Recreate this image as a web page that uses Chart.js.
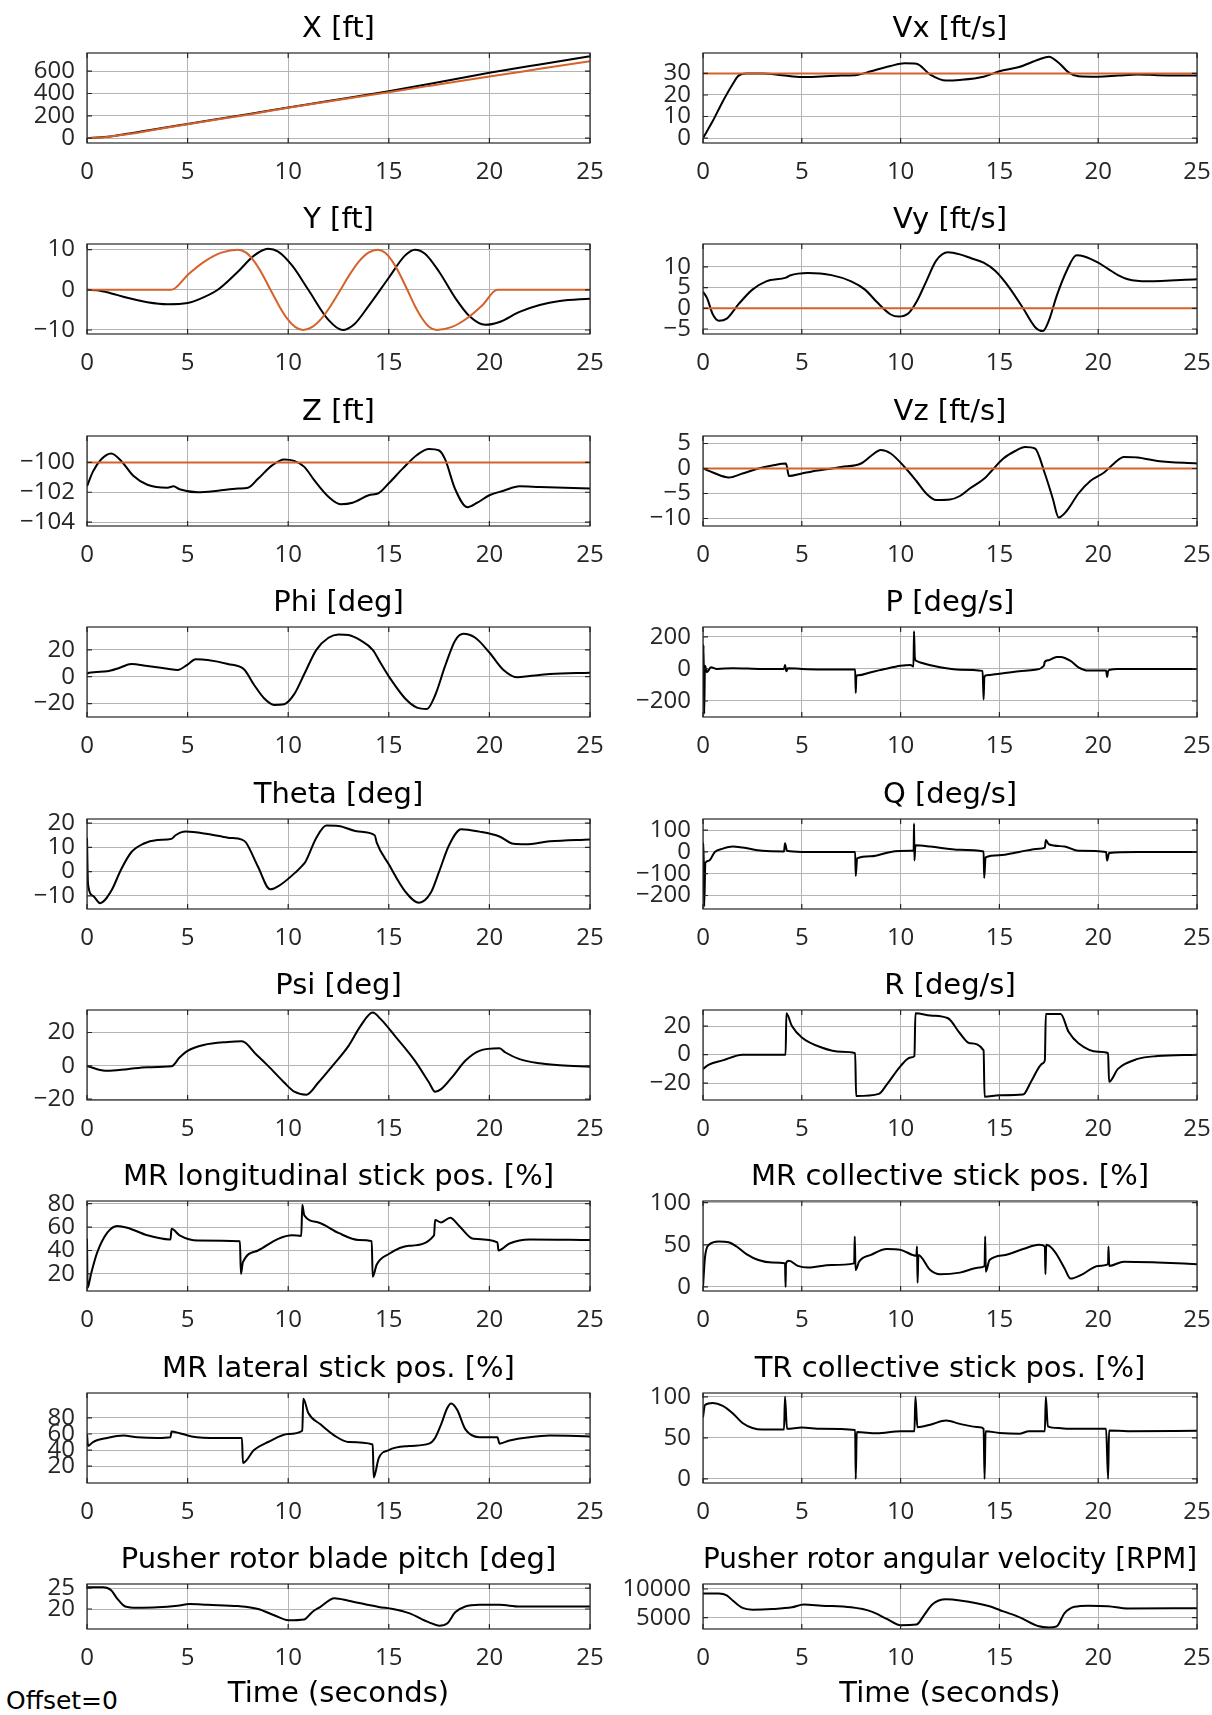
<!DOCTYPE html>
<html>
<head>
<meta charset="utf-8">
<script src="https://cdn.jsdelivr.net/npm/chart.js@4"></script>
<style>
  body { margin: 0; background: #fff; width: 1212px; height: 1715px; position: relative; overflow: hidden; font-family: "DejaVu Sans"; }
  .panel { position: absolute; }
  #offset { position: absolute; left: 6px; top: 1686px; font-size: 25px; color: #000; }
</style>
</head>
<body>
<div id="offset">Offset=0</div>
<script>
const BLACK = "#000000";
const ORANGE = "#D4622A";

// X [ft]
const tX = [0, 1, 2, 3, 5, 8, 10, 12, 15, 17, 20, 22.5, 25];
const xAct = [0, 12, 38, 68, 127, 215, 275, 332, 420, 485, 585, 660, 733];
const xCmd = [0, 10, 35, 64, 125, 210, 272, 328, 412, 468, 552, 621, 690];

// Vx [ft/s]
const tVx = [0, 0.5, 1, 1.5, 1.8, 2.2, 3, 4, 5, 6, 7, 7.8, 8.5, 9.5, 10.2, 10.8, 11.5, 12.3, 13, 14.2, 15, 16, 17, 17.5, 18, 18.5, 19, 20, 21, 22, 23, 25];
const vxAct = [0, 8, 17, 25, 29, 30, 30, 29.2, 28.3, 28.6, 29, 29.3, 31, 33.5, 34.7, 34.5, 29.5, 26.7, 27, 28.5, 31, 33, 36.5, 37.8, 35, 30.5, 28.7, 28.5, 29, 29.5, 29.2, 29];
const tVxCmd = [0, 25];
const vxCmd = [30, 30];

// Y [ft]
const tY = [0, 0.5, 1, 2, 3, 4, 5, 5.5, 6.5, 7.5, 8.3, 9, 9.5, 10.2, 11, 12, 12.7, 13.3, 14, 15, 15.8, 16.3, 16.8, 17.5, 18.3, 19, 19.8, 20.5, 21.5, 22.5, 23.5, 25];
const yAct = [0, -0.1, -0.6, -2, -3.1, -3.6, -3.3, -2.5, 0, 4.5, 8.5, 10.2, 9.5, 6, 0, -7.5, -10, -8.5, -4, 3, 8.5, 10, 9, 4.5, -2, -6.5, -8.7, -8, -5.5, -3.8, -2.8, -2.2];
const tYCmd = [0, 4.2, 5.03, 5.85, 6.68, 7.5, 7.91, 8.31, 8.72, 9.12, 9.53, 9.93, 10.34, 10.74, 11.2, 11.67, 12.13, 12.6, 13.06, 13.52, 13.99, 14.45, 14.82, 15.18, 15.55, 15.92, 16.28, 16.65, 17.01, 17.38, 18.14, 18.89, 19.65, 20.4, 25];
const yCmd = [0, 0, 3.83, 7.07, 9.24, 10, 9.24, 7.07, 3.83, 0, -3.83, -7.07, -9.24, -10, -9.24, -7.07, -3.83, 0, 3.83, 7.07, 9.24, 10, 9.24, 7.07, 3.83, 0, -3.83, -7.07, -9.24, -10, -9.24, -7.07, -3.83, 0, 0];

// Vy [ft/s]
const tVy = [0, 0.2, 0.5, 0.8, 1.2, 1.8, 2.5, 3.2, 4.2, 4.4, 5.3, 6.5, 7.5, 8.2, 8.8, 9.5, 9.9, 10.4, 10.8, 11.3, 11.8, 12.4, 13, 13.6, 14.2, 14.8, 15.5, 16.2, 16.8, 17.2, 17.5, 17.9, 18.4, 18.9, 19.3, 20, 20.5, 21, 21.5, 22.5, 25];
const vyAct = [4, 2.5, -1.5, -3, -2.5, 1, 4.5, 6.5, 7.4, 7.9, 8.5, 8, 6.5, 4.5, 1.5, -1.5, -2, -1.2, 1.5, 6.5, 11.5, 13.5, 13, 12, 11, 9, 5, 0, -4.5, -5.5, -3, 3, 9, 12.8, 12.5, 11, 9.5, 8, 7, 6.5, 7];
const tVyCmd = [0, 25];
const vyCmd = [0, 0];

// Z [ft]
const tZ = [0, 0.3, 0.7, 1.2, 1.7, 2.3, 3, 4, 4.3, 4.6, 5.5, 6.5, 7.5, 8, 8.5, 9.2, 9.8, 10.3, 10.8, 11.3, 12, 12.6, 13.2, 14, 14.5, 15, 15.7, 16.4, 17, 17.5, 17.8, 18.3, 18.9, 19.4, 20, 20.7, 21.5, 22.5, 25];
const zAct = [-101.6, -100.6, -99.8, -99.4, -99.9, -100.9, -101.5, -101.7, -101.6, -101.8, -102, -101.9, -101.75, -101.7, -101.1, -100.2, -99.8, -99.9, -100.3, -101.2, -102.3, -102.8, -102.7, -102.2, -102.05, -101.4, -100.4, -99.5, -99.1, -99.2, -99.8, -101.8, -103, -102.7, -102.2, -101.9, -101.6, -101.65, -101.75];
const tZCmd = [0, 25];
const zCmd = [-100, -100];

// Vz [ft/s]
const tVz = [0, 0.5, 1.3, 2, 2.8, 3.5, 4.2, 4.35, 5, 5.8, 7, 8, 8.5, 9, 9.5, 10.2, 10.8, 11.3, 11.8, 12.5, 13, 13.5, 14.3, 14.6, 15.2, 15.8, 16.3, 16.8, 17.3, 17.7, 18, 18.4, 19, 19.6, 20.3, 20.8, 21.3, 22, 23, 25];
const vzAct = [0, -0.8, -1.8, -1, 0, 0.6, 1, -1.5, -1, -0.4, 0.3, 1, 2.5, 3.7, 3, 0.3, -2.5, -5, -6.3, -6.2, -5.5, -4, -1.8, -0.5, 2, 3.5, 4.3, 4, -1, -6, -9.8, -8.5, -5, -2.5, -0.8, 1, 2.3, 2.2, 1.5, 1];
const tVzCmd = [0, 25];
const vzCmd = [0, 0];

// Phi [deg]
const tPhi = [0, 0.1, 1, 1.6, 2.2, 3, 4, 4.5, 5, 5.4, 6, 7, 7.8, 8.3, 8.8, 9.3, 9.8, 10.3, 10.8, 11.4, 12, 12.5, 13, 13.6, 14.2, 14.6, 15.1, 15.8, 16.4, 16.9, 17.3, 17.8, 18.3, 18.7, 19.3, 20, 20.7, 21.4, 22, 23, 25];
const phi = [2, 3, 4, 6.5, 9.5, 8, 6, 5, 9, 13, 12.5, 9.5, 5.5, -6, -16, -21, -20.5, -13, 2, 20, 29, 31.5, 31, 27, 20, 10, -2, -16, -23, -24, -14, 8, 27, 32, 29, 18, 5, -0.5, 0.5, 2, 3];

// P [deg/s]
const tP = [0, 0.03, 0.06, 0.1, 0.2, 0.4, 0.7, 1.5, 3, 4.1, 4.15, 4.22, 4.3, 5, 6, 7.7, 7.73, 7.76, 7.85, 8.5, 9.2, 10, 10.5, 10.65, 10.68, 10.72, 10.8, 11, 12, 13, 14.15, 14.2, 14.24, 14.35, 15, 16, 16.8, 17.25, 17.3, 17.5, 17.9, 18.1, 18.6, 19, 19.5, 20.4, 20.45, 20.5, 20.6, 21, 22, 25];
const pRate = [0, 150, -280, 20, -20, 10, 0, 5, 0, 0, 25, -15, 5, 0, -3, -3, -150, -45, -40, -20, 0, 20, 25, 15, 235, 70, 50, 40, 10, -5, -12, -190, -50, -40, -30, -15, -5, 20, 45, 55, 75, 75, 50, 10, -10, -10, -50, -15, -5, 0, 0, 0];

// Theta [deg]
const tTheta = [0, 0.05, 0.3, 0.65, 1.2, 1.7, 2.2, 2.8, 3.5, 4.2, 4.4, 4.9, 6, 7, 7.7, 7.9, 8.5, 9.1, 9.6, 10.4, 10.7, 10.85, 11.4, 11.9, 12.5, 13.5, 14.3, 14.4, 15, 15.8, 16.5, 17.1, 17.5, 18, 18.6, 19.5, 20.5, 21.2, 21.8, 23, 25];
const theta = [14, -5, -10, -13, -8, 1, 8, 11.5, 13, 13.5, 15, 16.5, 15.5, 14, 13.2, 12, 2, -7.3, -5.5, 0, 2.5, 4, 14, 19, 18.8, 16.5, 15, 12, 3, -8, -12.8, -8.5, 0, 11, 17.5, 16.5, 14.5, 11.5, 11.3, 12.5, 13.3];

// Q [deg/s]
const tQ = [0, 0.03, 0.06, 0.12, 0.3, 0.6, 1, 1.5, 2, 3, 4.1, 4.15, 4.25, 5, 7.7, 7.73, 7.8, 8.5, 9.5, 10.5, 10.66, 10.68, 10.7, 10.75, 11.5, 13, 14.2, 14.23, 14.3, 15, 16, 17, 17.3, 17.35, 17.5, 18.3, 19, 20.4, 20.45, 20.55, 22, 25];
const qRate = [30, 40, -250, -50, -40, 0, 15, 25, 20, 5, 2, 40, 5, 0, 0, -110, -30, -20, 0, 5, 5, 130, -40, 30, 25, 10, 2, -120, -25, -15, 0, 15, 20, 55, 35, 25, 5, 0, -40, -5, 0, 0];

// Psi [deg]
const tPsi = [0, 0.5, 1, 2, 3, 4.2, 4.6, 5, 5.8, 7, 7.7, 8.4, 9, 9.8, 10.3, 10.9, 11.5, 12.2, 13, 13.6, 14.2, 14.6, 15.3, 16.3, 17, 17.3, 17.6, 18.2, 18.8, 19.5, 20.5, 20.8, 21.5, 22.5, 23.5, 25];
const psi = [0, -2, -3, -2, -0.8, -0.3, 5, 9, 12.5, 14.3, 14.7, 7, 0, -10, -15.5, -17.3, -10, 0, 12, 24, 32, 28, 18, 3, -10, -15.5, -14, -6, 3, 9, 10.5, 8, 4, 1.5, 0.3, -0.5];

// R [deg/s]
const tR = [0, 0.3, 1, 2, 4.18, 4.22, 4.5, 5, 6, 7, 7.7, 7.75, 8.9, 9.3, 10, 10.5, 10.7, 10.75, 11.5, 12.4, 13, 13.5, 14.2, 14.25, 15, 16.2, 16.6, 17.2, 17.3, 17.35, 18.1, 18.5, 19, 20, 20.5, 20.55, 21, 22, 23, 25];
const rRate = [-10, -7, -4, 0, 0, 29, 20, 12, 5, 2, 1, -29, -27.5, -21, -8, -2, -1, 29, 27.5, 25.5, 15, 8, 3, -29.5, -28.5, -28, -19, -6, -4, 28.5, 28.5, 16, 8, 2, 1, -19, -10, -3, -1, 0];

// MR longitudinal stick pos. [%]
const tLon = [0, 0.03, 0.2, 0.5, 1, 1.5, 2, 3, 4.1, 4.15, 4.2, 4.6, 5.5, 7.6, 7.65, 7.75, 8.5, 9.5, 10.2, 10.65, 10.7, 10.8, 11.5, 12.5, 13.5, 14.15, 14.2, 14.4, 15, 16, 17.25, 17.3, 17.6, 18.05, 18.5, 19.2, 20.4, 20.45, 21, 22, 25];
const lonStick = [50, 8, 20, 38, 55, 61, 59.5, 53, 49.5, 49.5, 58.5, 53, 48.5, 48, 20, 30, 40, 50, 53, 52.5, 79, 70, 64, 55, 49, 48, 17.5, 28, 37, 44, 53, 66, 64, 68, 61, 50, 47, 40, 46, 49.5, 49];

// MR collective stick pos. [%]
const tCol = [0, 0.1, 0.3, 0.8, 1.3, 1.7, 2.2, 2.8, 3.5, 4.15, 4.18, 4.2, 4.35, 4.8, 5.3, 6.5, 7.65, 7.68, 7.72, 7.9, 8.5, 9.3, 10, 10.8, 10.83, 10.86, 10.9, 11.5, 12, 13, 14, 14.25, 14.28, 14.31, 14.5, 15.3, 16.2, 17, 17.3, 17.33, 17.37, 17.8, 18.3, 18.6, 19.2, 20, 20.5, 20.52, 20.56, 21.3, 23, 25];
const colStick = [0, 35, 50, 54, 53, 48, 39, 32, 29, 28, 0, 28, 31, 25, 23, 26, 28, 60, 20, 30, 38, 45, 44, 37, 48, 5, 38, 20, 15, 17, 23, 25, 60, 18, 32, 38, 45, 50, 48, 15, 50, 42, 22, 10, 15, 25, 27, 48, 25, 30, 29, 27];

// MR lateral stick pos. [%]
const tLat = [0, 0.05, 0.3, 1, 1.8, 2.5, 3.5, 4.15, 4.2, 4.6, 5.2, 6.5, 7.7, 7.75, 8.3, 9, 10, 10.7, 10.75, 11, 11.6, 12.3, 13, 14.2, 14.25, 14.5, 15, 16, 17, 17.3, 17.6, 17.9, 18.1, 18.4, 18.8, 19.5, 20.4, 20.5, 21, 22, 23, 25];
const latStick = [60, 45, 50, 55, 58, 56, 55, 56, 63, 61, 57, 55, 55, 24, 40, 50, 60, 64, 104, 86, 72, 58, 50, 47, 6, 30, 40, 45, 48, 55, 72, 92, 98, 90, 66, 56, 56, 48, 52, 56, 58, 57];

// TR collective stick pos. [%]
const tTr = [0, 0.1, 0.5, 1, 1.5, 2, 2.5, 3, 4.1, 4.15, 4.25, 5, 6, 7.7, 7.73, 7.78, 8.8, 10, 10.7, 10.75, 10.85, 11.5, 12.3, 13, 14, 14.2, 14.25, 14.3, 15, 16, 16.5, 17.3, 17.35, 17.45, 18, 18.5, 20.4, 20.5, 20.55, 21.5, 25];
const trStick = [75, 90, 92.5, 89, 80, 68, 62, 60, 60, 100, 61, 62.5, 61, 59.5, 0, 57, 55.5, 58, 58, 100, 63, 66, 71, 67, 63, 61, 0, 58, 56, 55, 58, 58, 100, 64, 62, 61, 61, 0, 59, 58, 58.5];

// Pusher rotor blade pitch [deg]
const tPitch = [0, 0.8, 1.2, 1.5, 1.9, 2.5, 3.5, 4.5, 5.1, 6, 7.5, 8.5, 9.3, 10, 10.8, 11.2, 11.6, 12.3, 13, 14.5, 15.2, 16, 17, 17.5, 17.9, 18.3, 18.8, 19.5, 20.5, 21.5, 25];
const pitch = [25.2, 25.2, 24.5, 22.5, 20.6, 20.3, 20.4, 20.8, 21.2, 21, 20.7, 20, 18.5, 17.3, 17.5, 19.3, 20.5, 22.6, 22, 20.5, 20, 19, 16.8, 16, 16.5, 19.2, 20.6, 21, 21, 20.6, 20.6];

// Pusher rotor angular velocity [RPM]
const tRpm = [0, 0.8, 1.2, 1.5, 2, 2.5, 3.5, 4.5, 5.1, 6, 7.5, 8.5, 9.3, 10, 10.8, 11.2, 11.6, 12.3, 13, 14.5, 15.2, 16, 17, 17.5, 17.9, 18.3, 18.8, 19.5, 20.5, 21.5, 25];
const rpm = [9200, 9200, 8900, 8000, 6700, 6400, 6500, 6800, 7300, 7100, 6800, 6100, 4800, 3700, 3800, 5500, 7300, 8200, 8000, 7000, 6100, 5100, 3500, 3300, 3500, 5800, 6900, 7100, 7000, 6600, 6650];

const panels = [
  { row: 0, col: 0, title: "X [ft]", min: -44, max: 763, ticks: [0, 200, 400, 600], series: [[tX, xCmd, ORANGE], [tX, xAct, BLACK]] },
  { row: 0, col: 1, title: "Vx [ft/s]", min: -2.3, max: 39.5, ticks: [0, 10, 20, 30], series: [[tVxCmd, vxCmd, ORANGE], [tVx, vxAct, BLACK]] },
  { row: 1, col: 0, title: "Y [ft]", min: -11, max: 11.4, ticks: [-10, 0, 10], series: [[tYCmd, yCmd, ORANGE], [tY, yAct, BLACK]] },
  { row: 1, col: 1, title: "Vy [ft/s]", min: -6.2, max: 15.5, ticks: [-5, 0, 5, 10], series: [[tVyCmd, vyCmd, ORANGE], [tVy, vyAct, BLACK]] },
  { row: 2, col: 0, title: "Z [ft]", min: -104.26, max: -98.23, ticks: [-104, -102, -100], series: [[tZCmd, zCmd, ORANGE], [tZ, zAct, BLACK]] },
  { row: 2, col: 1, title: "Vz [ft/s]", min: -11.5, max: 6.5, ticks: [-10, -5, 0, 5], series: [[tVzCmd, vzCmd, ORANGE], [tVz, vzAct, BLACK]] },
  { row: 3, col: 0, title: "Phi [deg]", min: -30, max: 37, ticks: [-20, 0, 20], series: [[tPhi, phi, BLACK]] },
  { row: 3, col: 1, title: "P [deg/s]", min: -300, max: 262, ticks: [-200, 0, 200], series: [[tP, pRate, BLACK]] },
  { row: 4, col: 0, title: "Theta [deg]", min: -15.4, max: 21.7, ticks: [-10, 0, 10, 20], series: [[tTheta, theta, BLACK]] },
  { row: 4, col: 1, title: "Q [deg/s]", min: -262, max: 151, ticks: [-200, -100, 0, 100], series: [[tQ, qRate, BLACK]] },
  { row: 5, col: 0, title: "Psi [deg]", min: -20.5, max: 33.5, ticks: [-20, 0, 20], series: [[tPsi, psi, BLACK]] },
  { row: 5, col: 1, title: "R [deg/s]", min: -31.8, max: 31.3, ticks: [-20, 0, 20], series: [[tR, rRate, BLACK]] },
  { row: 6, col: 0, title: "MR longitudinal stick pos. [%]", min: 5.4, max: 82.3, ticks: [20, 40, 60, 80], series: [[tLon, lonStick, BLACK]] },
  { row: 6, col: 1, title: "MR collective stick pos. [%]", min: -4.8, max: 102, ticks: [0, 50, 100], series: [[tCol, colStick, BLACK]] },
  { row: 7, col: 0, title: "MR lateral stick pos. [%]", min: -1, max: 111, ticks: [20, 40, 60, 80], series: [[tLat, latStick, BLACK]] },
  { row: 7, col: 1, title: "TR collective stick pos. [%]", min: -5, max: 104.6, ticks: [0, 50, 100], series: [[tTr, trStick, BLACK]] },
  { row: 8, col: 0, title: "Pusher rotor blade pitch [deg]", min: 15.2, max: 26, ticks: [20, 25], series: [[tPitch, pitch, BLACK]] },
  { row: 8, col: 1, title: "Pusher rotor angular velocity [RPM]", min: 3030, max: 10870, ticks: [5000, 10000], series: [[tRpm, rpm, BLACK]] }
];

// axes boxes in page pixels: left edge, right edge per column
const plotLeft = [87, 703];
const plotRight = [590, 1197];
const colLeft = [0, 606];
const colWidth = [620, 606];
const xTicks = [0, 5, 10, 15, 20, 25];

Chart.defaults.font.family = "DejaVu Sans";
Chart.defaults.color = "#262626";

// box round the axes plus MATLAB-style inward tick marks
const boxPlugin = {
  id: "box",
  afterDatasetsDraw(chart, args, opts) {
    const { ctx, chartArea: a, scales } = chart;
    ctx.save();
    ctx.strokeStyle = "#262626";
    ctx.lineWidth = 1.2;
    ctx.beginPath();
    xTicks.forEach(v => {
      const px = scales.x.getPixelForValue(v);
      ctx.moveTo(px, a.bottom); ctx.lineTo(px, a.bottom - 5);
      ctx.moveTo(px, a.top); ctx.lineTo(px, a.top + 5);
    });
    opts.yTicks.forEach(v => {
      const py = scales.y.getPixelForValue(v);
      ctx.moveTo(a.left, py); ctx.lineTo(a.left + 5, py);
      ctx.moveTo(a.right, py); ctx.lineTo(a.right - 5, py);
    });
    ctx.stroke();
    ctx.strokeRect(a.left, a.top, a.right - a.left, a.bottom - a.top);
    ctx.restore();
  }
};

const fmt = v => String(v).replace("-", "\u2212");
const tickFont = { family: "Open Sans", size: 24 };

panels.forEach(p => {
  const left = colLeft[p.col];
  const width = colWidth[p.col];
  const plotTop = Math.round(53 + 191.4 * p.row);
  const last = p.row === 8;
  const plotH = last ? 45 : 90;
  const axisH = last ? 85 : 44;
  const top = plotTop - 48;
  const height = 48 + plotH + axisH;

  const div = document.createElement("div");
  div.className = "panel";
  div.style.left = left + "px";
  div.style.top = top + "px";
  const canvas = document.createElement("canvas");
  canvas.width = width;
  canvas.height = height;
  div.appendChild(canvas);
  document.body.appendChild(div);

  new Chart(canvas, {
    type: "line",
    data: {
      datasets: p.series.map(([t, v, color]) => ({
        data: t.map((x, i) => ({ x: x, y: v[i] })),
        borderColor: color,
        borderWidth: 2,
        pointRadius: 0,
        cubicInterpolationMode: "monotone",
        fill: false
      }))
    },
    options: {
      responsive: false,
      animation: false,
      layout: { padding: { left: 0, right: left + width - plotRight[p.col], top: 0, bottom: 0 } },
      plugins: {
        legend: { display: false },
        tooltip: { enabled: false },
        title: {
          display: true,
          text: p.title,
          fullSize: false,
          color: "#000",
          font: { size: 29, weight: "normal" },
          padding: { top: 6.6, bottom: 6.6 }
        },
        box: { yTicks: p.ticks }
      },
      scales: {
        x: {
          type: "linear",
          min: 0,
          max: 25,
          afterBuildTicks: s => { s.ticks = xTicks.map(v => ({ value: v })); },
          ticks: { font: tickFont, padding: 15, maxRotation: 0, autoSkip: false },
          grid: { color: "#b4b4b4", lineWidth: 1, drawTicks: false },
          border: { display: false },
          title: {
            display: last,
            text: "Time (seconds)",
            color: "#000",
            font: { size: 29 },
            padding: { top: 0, bottom: 2 }
          },
          afterFit: s => { s.height = axisH; s.paddingLeft = 0; s.paddingRight = 0; }
        },
        y: {
          min: p.min,
          max: p.max,
          afterBuildTicks: s => { s.ticks = p.ticks.map(v => ({ value: v })); },
          ticks: { font: tickFont, padding: 12, autoSkip: false, callback: v => fmt(v) },
          grid: { color: "#b4b4b4", lineWidth: 1, drawTicks: false },
          border: { display: false },
          afterFit: s => { s.width = plotLeft[p.col] - left; }
        }
      }
    },
    plugins: [boxPlugin]
  });
});
</script>
</body>
</html>
